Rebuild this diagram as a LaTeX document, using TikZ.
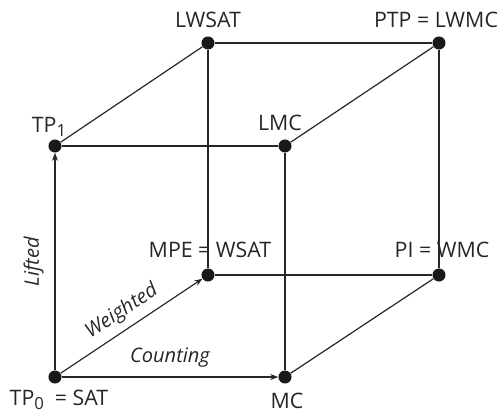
\documentclass[tikz,border=0pt]{standalone}
\usepackage{fontspec}
\setmainfont{Open Sans}
\usetikzlibrary{arrows.meta}
\newcommand{\subx}[1]{\raisebox{-0.4ex}{\fontsize{12.5}{13}\selectfont #1}}
\begin{document}
\begin{tikzpicture}[x=0.75pt,y=-0.75pt,
  dot/.style={circle,fill=black!90,inner sep=0pt,minimum size=9.8pt},
  edge/.style={line width=0.9pt,draw=black!85},
  arr/.style={edge,-{Stealth[length=6pt,width=4.5pt]}},
  lbl/.style={font=\fontsize{16}{18}\selectfont,text=black!85,inner sep=0pt},
  elbl/.style={font=\fontsize{15}{17}\selectfont\itshape,text=black!85,inner sep=0pt}]
\useasboundingbox (0,0) rectangle (498,414);
% nodes
\node[dot] (tp0) at (55,377) {};
\node[dot] (mc) at (285,377) {};
\node[dot] (tp1) at (55,146) {};
\node[dot] (lmc) at (285,146) {};
\node[dot] (mpe) at (208,275) {};
\node[dot] (pi) at (439,275) {};
\node[dot] (lwsat) at (208,43) {};
\node[dot] (ptp) at (439,43) {};
% edges
\draw[edge] (tp1) -- (lmc);
\draw[edge] (tp1) -- (lwsat);
\draw[edge] (lwsat) -- (ptp);
\draw[edge] (lmc) -- (ptp);
\draw[edge] (lwsat) -- (mpe);
\draw[edge] (lmc) -- (mc);
\draw[edge] (ptp) -- (pi);
\draw[edge] (mpe) -- (pi);
\draw[edge] (mc) -- (pi);
\draw[arr] (tp0) -- (tp1) node[midway,elbl,rotate=90,above=8pt] {Lifted};
\draw[arr] (tp0) -- (mpe) node[midway,elbl,sloped,above=5pt] {Weighted};
\draw[arr] (tp0) -- (mc) node[midway,elbl,above=7pt] {Counting};
% labels
\node[lbl] (l1) at (208,20) {LWSAT};
\node[lbl] (l2) at (436,20) {PTP = LWMC};
\node[lbl] (l3) at (49,127) {TP\subx{1}};
\node[lbl] (l4) at (280,123) {LMC};
\node[lbl] (l5) at (210,250) {MPE = WSAT};
\node[lbl] (l6) at (442,250) {PI = WMC};
\node[lbl] (l7) at (59,400) {TP\subx{0}\ \ = SAT};
\node[lbl] (l8) at (287,401) {MC};
\end{tikzpicture}
\end{document}
